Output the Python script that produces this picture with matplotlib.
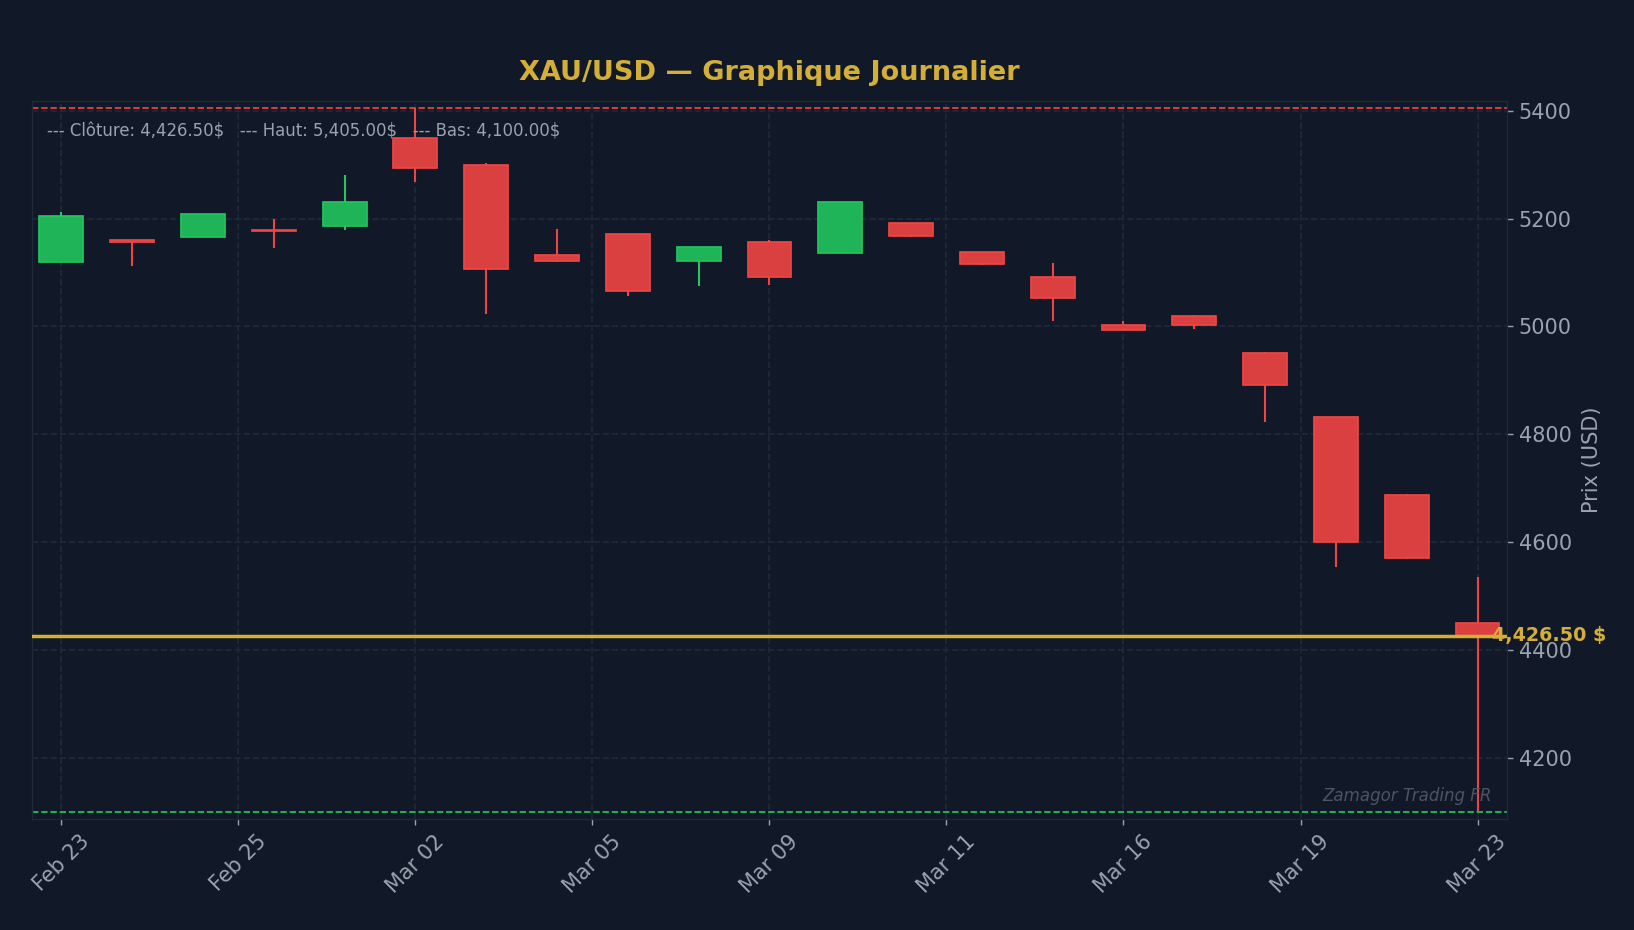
import numpy as np
import matplotlib.pyplot as plt
from matplotlib.patches import Rectangle
from matplotlib.transforms import blended_transform_factory

# daily candles, XAU/USD
dates = ['Feb 23', 'Feb 24', 'Feb 25', 'Feb 26', 'Feb 27', 'Mar 02', 'Mar 03',
         'Mar 04', 'Mar 05', 'Mar 06', 'Mar 09', 'Mar 10', 'Mar 11', 'Mar 12',
         'Mar 13', 'Mar 16', 'Mar 17', 'Mar 18', 'Mar 19', 'Mar 20', 'Mar 23']
opens = [5120, 5160, 5166, 5178, 5186, 5349, 5300, 5132, 5172, 5121, 5157,
         5137, 5191, 5138, 5091, 5003, 5020, 4951, 4832, 4688, 4451]
highs = [5212, 5160, 5209, 5199, 5281, 5405, 5303, 5181, 5172, 5147, 5161,
         5231, 5192, 5138, 5118, 5011, 5021, 4952, 4833, 4689, 4536]
lows = [5119, 5113, 5165, 5145, 5178, 5267, 5024, 5119, 5056, 5075, 5077,
        5136, 5166, 5114, 5010, 4993, 4995, 4823, 4555, 4569, 4100]
closes = [5205, 5157, 5208, 5177, 5231, 5293, 5106, 5121, 5065, 5147, 5091,
          5230, 5167, 5115, 5052, 4994, 5002, 4891, 4601, 4570, 4426.5]

last_close = 4426.50
period_high = 5405.00
period_low = 4100.00

BG = '#111827'
GRID = '#1f2937'
TXT = '#9ca3af'
GOLD = '#d4af37'
UP = '#22c55e'
DOWN = '#ef4444'
UP_FILL = '#20b458'   # green at 90% over the background
DOWN_FILL = '#d9403f'

fig = plt.figure(figsize=(13.072, 7.44), dpi=125, facecolor=BG)
ax = fig.add_axes([0.0198, 0.1194, 0.9022, 0.772])
ax.set_facecolor(BG)

w = 0.62
for i in range(len(dates)):
    o, h, l, c = opens[i], highs[i], lows[i], closes[i]
    up = c >= o
    col = UP if up else DOWN
    ax.vlines(i, l, h, color=col, lw=1.2, zorder=2)
    bottom = min(o, c)
    height = max(abs(c - o), 1.5)
    ax.add_patch(Rectangle((i - w/2, bottom), w, height,
                           facecolor=UP_FILL if up else DOWN_FILL,
                           edgecolor=col, lw=1, zorder=3))

ax.axhline(last_close, color=GOLD, lw=2, zorder=4)
ax.axhline(period_high, color=DOWN, lw=1, ls='--', zorder=1)
ax.axhline(period_low, color=UP, lw=1, ls='--', zorder=1)

tr = blended_transform_factory(ax.transAxes, ax.transData)
ax.text(0.99, last_close, f'{last_close:,.2f} $', transform=tr, color=GOLD,
        fontsize=11, fontweight='bold', ha='left', va='center', zorder=5,
        clip_on=False)

ax.text(0.01, 0.97,
        f'--- Clôture: {last_close:,.2f}$   --- Haut: {period_high:,.2f}$   '
        f'--- Bas: {period_low:,.2f}$',
        transform=ax.transAxes, color=TXT, fontsize=9.5, ha='left', va='top')
ax.text(0.99, 0.02, 'Zamagor Trading FR', transform=ax.transAxes,
        color='#4b5563', fontsize=9.6, style='italic', ha='right', va='bottom')

ticks = np.arange(0, len(dates), 2.5)
ax.set_xticks(ticks)
ax.set_xticklabels([dates[int(round(t))] for t in ticks], rotation=45)
ax.set_xlim(-0.41, len(dates) - 1 + 0.41)
ax.set_ylim(4087, 5418)
ax.set_yticks([4200, 4400, 4600, 4800, 5000, 5200, 5400])

ax.yaxis.tick_right()
ax.yaxis.set_label_position('right')
ax.set_ylabel('Prix (USD)', color=TXT, fontsize=12, labelpad=6)
ax.tick_params(colors=TXT, labelsize=12)
for s in ax.spines.values():
    s.set_color(GRID)
ax.grid(True, color=GRID, ls='--', lw=1)
ax.set_axisbelow(True)

ax.set_title('XAU/USD — Graphique Journalier', color=GOLD, fontsize=15.6,
             fontweight='bold', pad=12)

plt.savefig('out.png', dpi=125, facecolor=BG)
